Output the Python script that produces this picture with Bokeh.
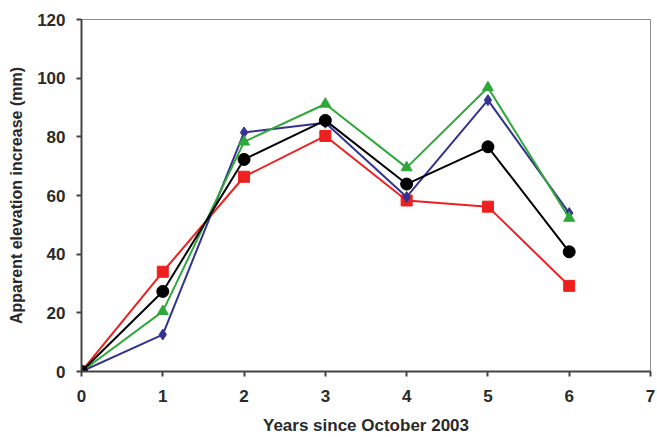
from bokeh.plotting import figure
from bokeh.models import FixedTicker, Range1d
from bokeh.embed import file_html
from bokeh.resources import INLINE

years = [0, 1, 2, 3, 4, 5, 6]
series_red = [0, 34, 66.4, 80.3, 58.3, 56.2, 29.2]
series_blue = [0, 12.6, 81.5, 84.8, 59.5, 92.5, 54]
series_green = [0, 20.5, 78.3, 91.2, 69.5, 96.8, 52.3]
series_black = [0, 27.3, 72.3, 85.6, 63.9, 76.6, 40.8]
x_ticks = [0, 1, 2, 3, 4, 5, 6, 7]
y_ticks = [0, 20, 40, 60, 80, 100, 120]

FONT = "Liberation Sans"

p = figure(width=657, height=437, output_backend="svg", toolbar_location=None,
           x_range=Range1d(0, 7), y_range=Range1d(0, 120),
           min_border_left=81, min_border_right=7, min_border_top=19, min_border_bottom=65)
p.xgrid.visible = False
p.ygrid.visible = False
p.outline_line_color = "#8a8a8a"
p.outline_line_width = 1

for ax in (p.xaxis[0], p.yaxis[0]):
    ax.axis_line_color = "#444444"
    ax.axis_line_width = 2
    ax.major_tick_line_color = "#444444"
    ax.major_tick_line_width = 2
    ax.major_tick_out = 5
    ax.major_tick_in = 0
    ax.minor_tick_line_color = None
    ax.major_label_text_font = FONT
    ax.major_label_text_font_style = "bold"
    ax.major_label_text_font_size = "17px"
    ax.major_label_text_color = "#2a2a2a"
    ax.axis_label_text_font = FONT
    ax.axis_label_text_font_style = "bold"
    ax.axis_label_text_color = "#2a2a2a"

p.xaxis.axis_label_text_font_size = "17px"
p.yaxis.axis_label_text_font_size = "16px"
p.xaxis.ticker = FixedTicker(ticks=x_ticks)
p.yaxis.ticker = FixedTicker(ticks=y_ticks)
p.xaxis.axis_label = "Years since October 2003"
p.yaxis.axis_label = "Apparent elevation increase (mm)"
p.xaxis.major_label_standoff = 13
p.yaxis.major_label_standoff = 11
p.xaxis.axis_label_standoff = 11
p.yaxis.axis_label_standoff = 9

red = "#ee1f1f"
blue = "#33338f"
green = "#2fa83a"
black = "#000000"

p.line(years, series_red, line_color=red, line_width=2)
p.scatter(years, series_red, marker="square", size=11, fill_color=red, line_color=red)

p.line(years, series_blue, line_color=blue, line_width=2)
p.scatter(years, series_blue, marker="diamond", size=11, fill_color=blue, line_color=blue)

p.line(years, series_green, line_color=green, line_width=2)
p.scatter(years, series_green, marker="triangle", size=11, fill_color=green, line_color=green)

p.line(years, series_black, line_color=black, line_width=2)
p.scatter(years, series_black, marker="circle", size=12, fill_color=black, line_color=black)

open("out.html", "w").write(file_html(p, INLINE))
